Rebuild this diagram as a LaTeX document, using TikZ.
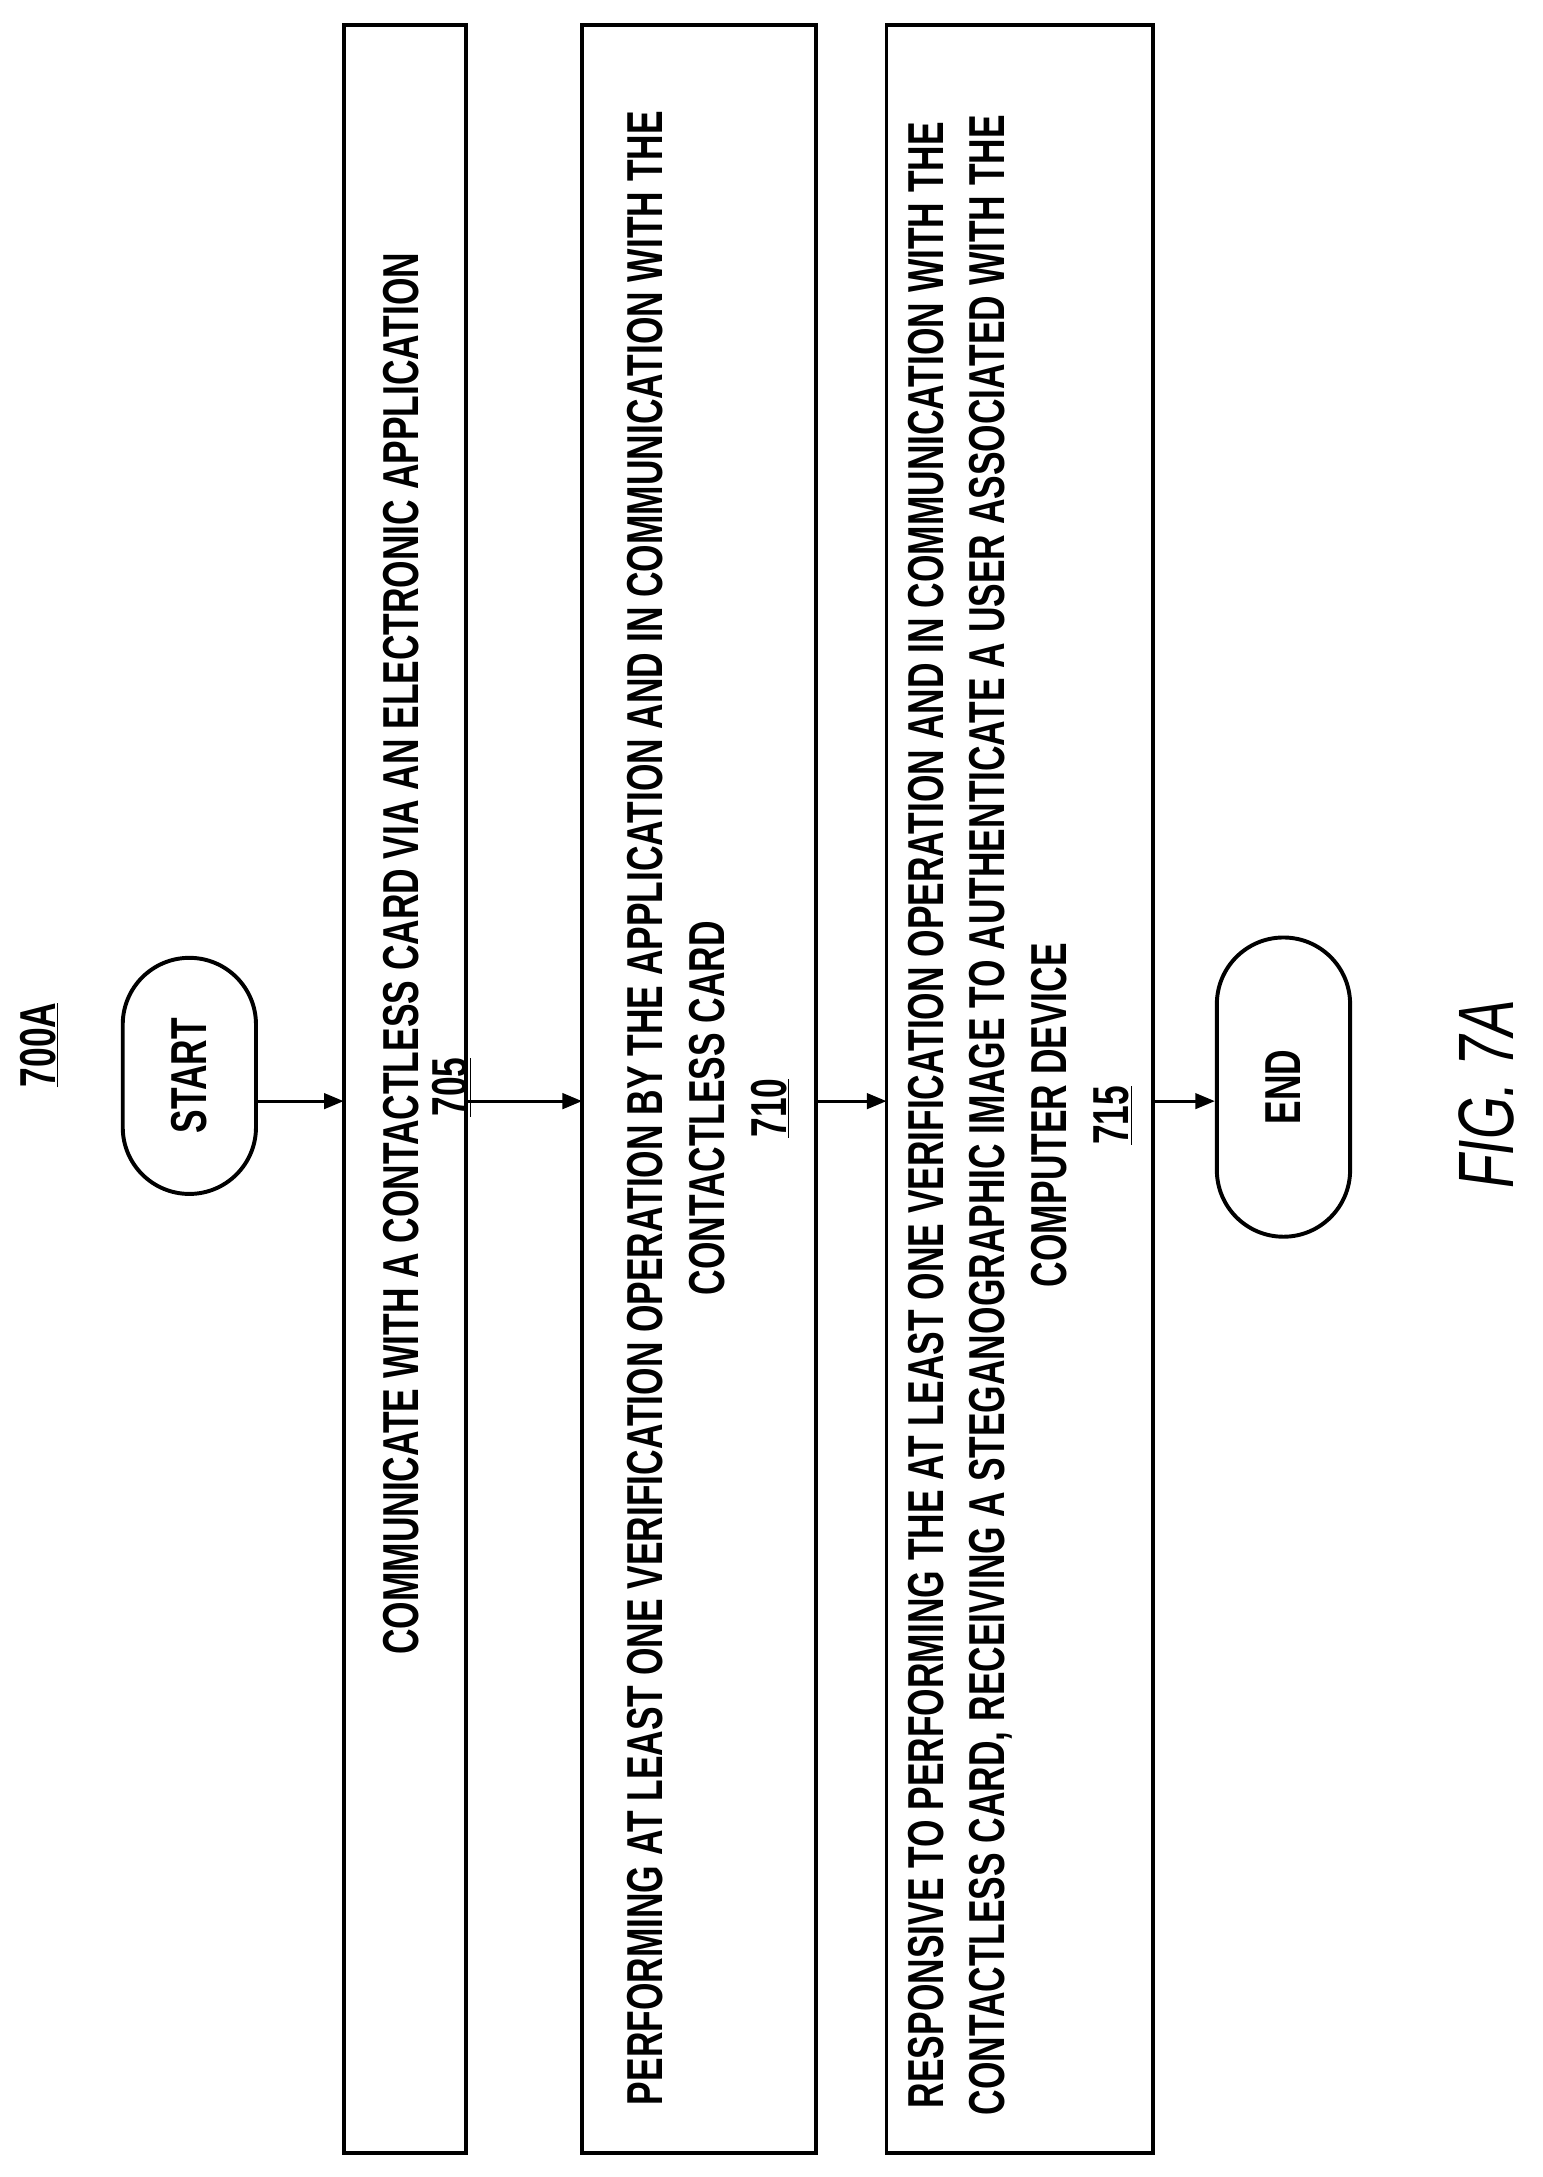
\documentclass[tikz,border=0pt]{standalone}
\usepackage{fontspec}
\setmainfont{Liberation Sans}[FakeStretch=0.7]
\usetikzlibrary{shapes.misc,arrows.meta}
\tikzset{every picture/.style={line width=2.2pt}}
\tikzset{
  stepbox/.style={draw,line width=2.8pt},
  term/.style={draw,line width=2.8pt,rounded rectangle,rotate=90,minimum width=175pt,minimum height=95pt,font=\fontsize{36}{44}\selectfont\bfseries},
  steptext/.style={rotate=90,align=center,font=\fontsize{36}{44}\selectfont\bfseries},
  flow/.style={-{Triangle[length=14pt,width=11pt]}}
}
\begin{document}
\begin{tikzpicture}[x=1pt,y=1pt,yscale=-1,xscale=1]
\useasboundingbox (0,0) rectangle (1100,1552);

\node [steptext] (lbl) at (28,745) {\underline{700A}};
\node [term] (start) at (135,767) {START};
\node [term,minimum width=220pt] (end) at (915,775) {END};

\draw [stepbox] (245,18) rectangle (332,1535);
\draw [stepbox] (415,18) rectangle (582,1535);
\draw [stepbox] (632,18) rectangle (822,1535);
\coordinate (b1l) at (245,785);
\coordinate (b1r) at (332,785);
\coordinate (b2l) at (415,785);
\coordinate (b2r) at (582,785);
\coordinate (b3l) at (632,785);
\coordinate (b3r) at (822,785);

\node [steptext] (t705) at (286,680) {COMMUNICATE WITH A CONTACTLESS CARD VIA AN ELECTRONIC APPLICATION};
\node [steptext] (n705) at (322,775) {\underline{705}};
\node [steptext] (t710) at (505,790) {PERFORMING AT LEAST ONE VERIFICATION OPERATION BY THE APPLICATION AND IN COMMUNICATION WITH THE\\CONTACTLESS CARD\\\underline{710}};
\node [steptext] (t715) at (727,795) {RESPONSIVE TO PERFORMING THE AT LEAST ONE VERIFICATION OPERATION AND IN COMMUNICATION WITH THE\\CONTACTLESS CARD, RECEIVING A STEGANOGRAPHIC IMAGE TO AUTHENTICATE A USER ASSOCIATED WITH THE\\COMPUTER DEVICE\\\underline{715}};

\draw [flow] (start.south |- b1l) -- (b1l);
\draw [flow] (b1r) -- (b2l);
\draw [flow] (b2r) -- (b3l);
\draw [flow] (b3r) -- (end.north |- b3r);

\node [rotate=90,font=\fontsize{56}{64}\selectfont\itshape] (fig) at (1060,780) {FIG. 7A};
\end{tikzpicture}
\end{document}
